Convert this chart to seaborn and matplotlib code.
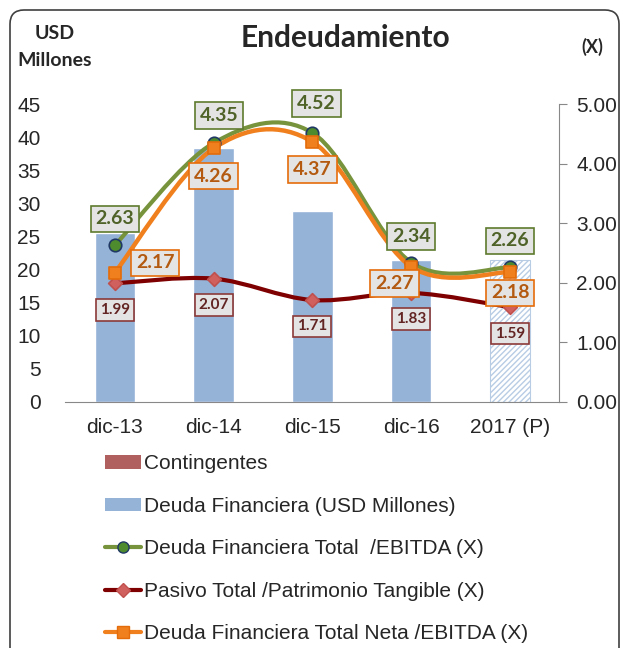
import numpy as np
import pandas as pd
import matplotlib
matplotlib.use("Agg")
import matplotlib.pyplot as plt
import seaborn as sns
from matplotlib.path import Path
from matplotlib.patches import PathPatch, Patch, FancyBboxPatch
from matplotlib.lines import Line2D
from matplotlib.transforms import IdentityTransform


# =========================
# Data
# =========================
categories = ["dic-13", "dic-14", "dic-15", "dic-16", "2017 (P)"]
deuda_financiera = [25.5, 38.4, 28.9, 21.4, 21.4]
contingentes = [0, 0, 0, 0, 0]
deuda_ebitda = [2.63, 4.35, 4.52, 2.34, 2.26]
pasivo_patrimonio = [1.99, 2.07, 1.71, 1.83, 1.59]
deuda_neta_ebitda = [2.17, 4.26, 4.37, 2.27, 2.18]

left_ticks = [0, 5, 10, 15, 20, 25, 30, 35, 40, 45]
right_ticks = [0.0, 1.0, 2.0, 3.0, 4.0, 5.0]

# label offsets (points) for value boxes
green_offsets = [(0, 19), (4, 20), (3, 21), (0, 19), (0, 19)]
orange_offsets = [(29, 7), (0, -20), (0, -20), (-12, -12), (0, -15)]
red_offsets = [(0, -19), (0, -19), (0, -19), (0, -19), (0, -19)]

# colours
BAR_BLUE = "#95B3D7"
GREEN = "#77933C"
ORANGE = "#F07F1E"
DARK_RED = "#7F0000"
CONT_RED = "#B0605E"
CALIBRI_LIKE = ["Lato", "DejaVu Sans"]

df = pd.DataFrame({
    "periodo": categories,
    "deuda": deuda_financiera,
    "contingentes": contingentes,
})

sns.set_style("white")
plt.rcParams["font.family"] = "sans-serif"
plt.rcParams["font.sans-serif"] = ["Liberation Sans", "DejaVu Sans"]

fig = plt.figure(figsize=(6.23, 6.48), dpi=100)
ax = fig.add_axes([0.105, 0.380, 0.793, 0.459])

# =========================
# Bars
# =========================
sns.barplot(data=df, x="periodo", y="deuda", color=BAR_BLUE, width=0.41,
            saturation=1, ax=ax, zorder=1)
last = ax.patches[-1]
last.set_facecolor("white")
last.set_edgecolor("#B8CCE4")
last.set_hatch("//////")
last.set_linewidth(0.8)

ax.set_ylim(0, 45)
ax.set_yticks(left_ticks)
ax.set_xlim(-0.5, 4.5)
ax.set_xlabel("")
ax.set_ylabel("")
ax.tick_params(axis="y", length=0, pad=18, labelsize=15)
ax.tick_params(axis="x", length=0, pad=12, labelsize=15)
for side in ["left", "top", "right"]:
    ax.spines[side].set_visible(False)
ax.spines["bottom"].set_color("#888888")

# =========================
# Ratio lines (right axis)
# =========================
ax2 = ax.twinx()
ax2.set_ylim(0, 5)
ax2.set_yticks(right_ticks)
ax2.set_yticklabels([f"{v:.2f}" for v in right_ticks])
ax2.tick_params(axis="y", length=6, color="#888888", labelsize=15, pad=6)
for side in ["left", "top", "bottom"]:
    ax2.spines[side].set_visible(False)
ax2.spines["right"].set_color("#888888")

xpos = np.arange(len(categories))


def smooth_path(xs, ys):
    # Catmull-Rom style bezier, like the "smoothed line" option in Excel
    pts = np.column_stack([xs, ys]).astype(float)
    ext = np.vstack([pts[0], pts, pts[-1]])
    verts = [pts[0]]
    codes = [Path.MOVETO]
    for i in range(1, len(ext) - 2):
        p0, p1, p2, p3 = ext[i - 1], ext[i], ext[i + 1], ext[i + 2]
        verts += [p1 + (p2 - p0) / 6, p2 - (p3 - p1) / 6, p2]
        codes += [Path.CURVE4] * 3
    return Path(verts, codes)


series = [
    (deuda_ebitda, GREEN, 3.0, "o", "#4E8A2E", "#1F3864", 9),
    (pasivo_patrimonio, DARK_RED, 3.0, "D", "#D0605E", "#C0504D", 7),
    (deuda_neta_ebitda, ORANGE, 3.2, "s", ORANGE, "#E46C0A", 9),
]
for vals, col, lw, mk, mfc, mec, ms in series:
    ax2.add_patch(PathPatch(smooth_path(xpos, vals), fc="none", ec=col,
                            lw=lw, zorder=3, capstyle="round"))

for vals, col, lw, mk, mfc, mec, ms in series:
    sns.scatterplot(x=xpos, y=vals, marker=mk, s=ms ** 2, color=mfc,
                    edgecolor=mec, linewidth=1.2, ax=ax2, zorder=4)


def label_boxes(vals, offsets, txt_color, edge_color, size):
    for x, v, off in zip(xpos, vals, offsets):
        ax2.annotate(f"{v:.2f}", (x, v), xytext=off, textcoords="offset points",
                     ha="center", va="center", fontsize=size, fontweight="bold",
                     family=CALIBRI_LIKE, color=txt_color, zorder=6,
                     bbox=dict(boxstyle="square,pad=0.25", fc="#E4E4E4",
                               ec=edge_color, lw=1.2))


label_boxes(deuda_ebitda, green_offsets, "#4F6228", "#5E7A2E", 14)
label_boxes(deuda_neta_ebitda, orange_offsets, "#B35A10", "#E46C0A", 14)
label_boxes(pasivo_patrimonio, red_offsets, "#632523", "#8B3A38", 11)

# =========================
# Titles
# =========================
fig.text(0.555, 0.941, "Endeudamiento", ha="center", va="center",
         fontsize=21.5, fontweight="bold", family=CALIBRI_LIKE)
fig.text(0.088, 0.928, "USD\nMillones", ha="center", va="center",
         fontsize=14, fontweight="bold", family=CALIBRI_LIKE,
         linespacing=1.7)
fig.text(0.950, 0.928, "(X)", ha="center", va="center",
         fontsize=13, fontweight="bold", family=CALIBRI_LIKE)

# =========================
# Legend
# =========================
handles = [
    Patch(facecolor=CONT_RED, edgecolor="none"),
    Patch(facecolor=BAR_BLUE, edgecolor="none"),
    Line2D([], [], color=GREEN, lw=3, marker="o", ms=8,
           mfc="#4E8A2E", mec="#1F3864"),
    Line2D([], [], color=DARK_RED, lw=3, marker="D", ms=7,
           mfc="#D0605E", mec="#C0504D"),
    Line2D([], [], color=ORANGE, lw=3, marker="s", ms=9,
           mfc=ORANGE, mec="#E46C0A"),
]
labels = [
    "Contingentes",
    "Deuda Financiera (USD Millones)",
    "Deuda Financiera Total  /EBITDA (X)",
    "Pasivo Total /Patrimonio Tangible (X)",
    "Deuda Financiera Total Neta /EBITDA (X)",
]
fig.legend(handles, labels, loc="upper left", bbox_to_anchor=(0.168, 0.299),
           frameon=False, handlelength=1.75, handleheight=0.6,
           handletextpad=0.15, labelspacing=1.13, borderpad=0, borderaxespad=0,
           prop={"family": "Liberation Sans", "size": 15})

# rounded frame around the whole chart
frame = FancyBboxPatch((10, -30), 609, 668, boxstyle="round,pad=0,rounding_size=14",
                       transform=IdentityTransform(), fc="none", ec="#404040",
                       lw=1.2, figure=fig)
fig.patches.append(frame)

fig.savefig("out.png", dpi=100)
